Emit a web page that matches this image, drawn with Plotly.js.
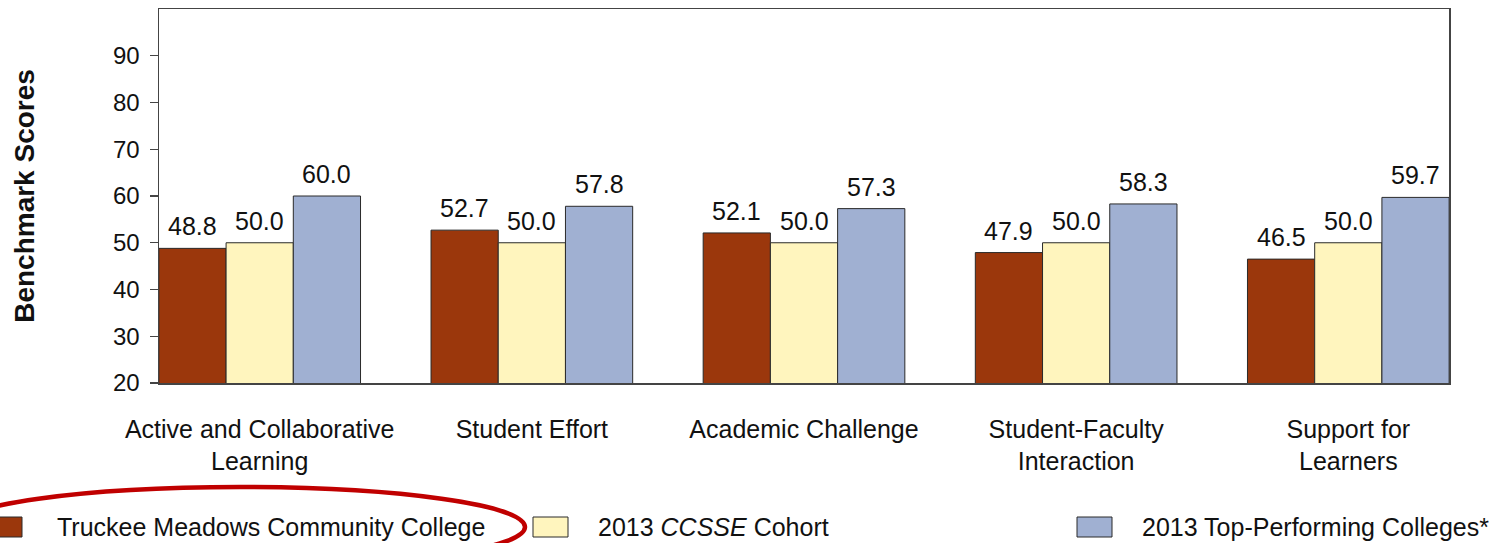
<!DOCTYPE html>
<html>
<head>
<meta charset="utf-8">
<script src="https://cdn.plot.ly/plotly-3.0.1.min.js"></script>
<style>
html,body{margin:0;padding:0;background:#fff;}
#chart{width:1492px;height:543px;}
</style>
</head>
<body>
<div id="chart"></div>
<script>
// ---- data ----
const categories = [
  "Active and Collaborative<br>Learning",
  "Student Effort",
  "Academic Challenge",
  "Student-Faculty<br>Interaction",
  "Support for<br>Learners"
];
const seriesNames = [
  "Truckee Meadows Community College",
  "2013 <i>CCSSE</i> Cohort",
  "2013 Top-Performing Colleges*"
];
const truckeeValues = [48.8, 52.7, 52.1, 47.9, 46.5];
const cohortValues  = [50.0, 50.0, 50.0, 50.0, 50.0];
const topValues     = [60.0, 57.8, 57.3, 58.3, 59.7];
const yTickVals = [20, 30, 40, 50, 60, 70, 80, 90];

// ---- styles ----
const colors = ["#9B370C", "#FFF5BE", "#A0B0D2"];
const FONT = "Liberation Sans, Arial, sans-serif";
const bargap = 0.259;
const series = [truckeeValues, cohortValues, topValues];

const traces = series.map((vals, j) => ({
  type: "bar",
  x: categories.map((c, i) => i),
  y: vals,
  name: seriesNames[j],
  marker: {color: colors[j], line: {color: "#2a2a2a", width: 1}},
  showlegend: false,
  hoverinfo: "y"
}));

// data labels
const nS = series.length;
const slot = (1 - bargap) / nS;
const annotations = [];
series.forEach((vals, j) => {
  vals.forEach((v, i) => {
    annotations.push({
      x: i + (j - (nS - 1) / 2) * slot, xref: "x",
      y: v, yref: "y",
      text: v.toFixed(1),
      showarrow: false,
      yanchor: "bottom",
      yshift: 6,
      font: {family: FONT, size: 25, color: "#111"}
    });
  });
});

// legend (drawn manually, pixel -> paper)
const L = 159, T = 9, W = 1290, H = 374;
const px = v => (v - L) / W;
const py = v => (T + H - v) / H;
const legendSwatchX = [-13, 533, 1077];
const legendTextX = [55, 596, 1140];
const shapes = [];
seriesNames.forEach((n, j) => {
  shapes.push({
    type: "rect", xref: "paper", yref: "paper",
    x0: px(legendSwatchX[j]), x1: px(legendSwatchX[j] + 35),
    y0: py(537), y1: py(517),
    fillcolor: colors[j], line: {color: "#2a2a2a", width: 1}
  });
  annotations.push({
    xref: "paper", yref: "paper",
    x: px(legendTextX[j]), y: py(527),
    xanchor: "left", yanchor: "middle",
    text: n, showarrow: false,
    font: {family: FONT, size: 25, color: "#111"}
  });
});
// red highlight ellipse
shapes.push({
  type: "circle", xref: "paper", yref: "paper",
  x0: px(-45), x1: px(525), y0: py(567), y1: py(487),
  line: {color: "#C00000", width: 4.5}, fillcolor: "rgba(0,0,0,0)"
});

const layout = {
  width: 1492, height: 543,
  margin: {l: L, r: 1492 - L - W, t: T, b: 543 - T - H, pad: 0},
  paper_bgcolor: "#fff", plot_bgcolor: "#fff",
  barmode: "group", bargap: bargap, bargroupgap: 0,
  showlegend: false,
  font: {family: FONT, color: "#111"},
  xaxis: {
    type: "linear",
    range: [-0.37, 4.37],
    tickmode: "array",
    tickvals: categories.map((c, i) => i),
    ticktext: categories,
    ticks: "",
    showgrid: false, zeroline: false,
    showline: true, mirror: true, linecolor: "#444", linewidth: 1.5,
    ticklabelstandoff: 23,
    tickfont: {family: FONT, size: 25, color: "#111"}
  },
  yaxis: {
    range: [20, 100],
    tickmode: "array", tickvals: yTickVals,
    ticks: "outside", ticklen: 8, tickcolor: "#444", tickwidth: 1.2,
    showgrid: false, zeroline: false,
    showline: true, mirror: true, linecolor: "#444", linewidth: 1.5,
    ticklabelstandoff: 5,
    tickfont: {family: FONT, size: 24, color: "#111"},
    title: {text: "<b>Benchmark Scores</b>", standoff: 70,
            font: {family: FONT, size: 28, color: "#111"}}
  },
  annotations: annotations,
  shapes: shapes
};

Plotly.newPlot("chart", traces, layout, {displayModeBar: false, staticPlot: true});
</script>
</body>
</html>
